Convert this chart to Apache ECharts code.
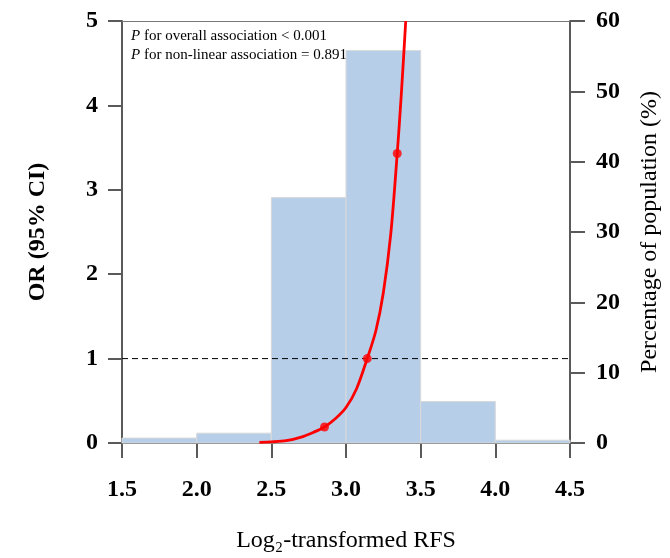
<!DOCTYPE html>
<html>
<head>
<meta charset="utf-8">
<script src="https://cdn.jsdelivr.net/npm/echarts@6/dist/echarts.min.js"></script>
<style>html,body{margin:0;padding:0;background:#fff;overflow:hidden}#c{width:670px;height:558px}</style>
</head>
<body>
<div id="c"></div>
<script>
// Histogram bins (Log2-transformed RFS) and percentage of population
var binStart = [1.5, 2.0, 2.5, 3.0, 3.5, 4.0];
var binEnd   = [2.0, 2.5, 3.0, 3.5, 4.0, 4.5];
var binPct   = [0.7, 1.4, 34.9, 55.8, 5.9, 0.4];

var curveX  = [2.42, 2.50, 2.60, 2.70, 2.78, 2.856, 2.93, 3.00, 3.07, 3.142, 3.20, 3.25, 3.30, 3.343, 3.37, 3.40];
var curveOR = [0.008, 0.013, 0.027, 0.07, 0.125, 0.19, 0.29, 0.42, 0.64, 1.0, 1.33, 1.78, 2.48, 3.43, 4.12, 5.0];

// Highlighted knots
var knotX  = [2.856, 3.142, 3.343];
var knotOR = [0.19, 1.0, 3.43];

var xTicks = ['1.5', '2.0', '2.5', '3.0', '3.5', '4.0', '4.5'];
var refOR = 1;

var FONT = '"Liberation Serif", "Times New Roman", serif';
var AXC = '#5a5a5a';

var chart = echarts.init(document.getElementById('c'), null, {renderer: 'canvas', width: 670, height: 558});

var hist = binStart.map(function (s, i) { return [s, binEnd[i], binPct[i]]; });
var curve = curveX.map(function (x, i) { return [x, curveOR[i]]; });
var knots = knotX.map(function (x, i) { return [x, knotOR[i]]; });

chart.setOption({
  backgroundColor: '#fff',
  animation: false,
  grid: {left: 122, right: 93, top: 21, bottom: 111, containLabel: false},
  graphic: [{
    type: 'text', left: 131, top: 29,
    style: {
      rich: {
        i: {fontFamily: FONT, fontSize: 15, fontStyle: 'italic', fill: '#000', lineHeight: 19},
        n: {fontFamily: FONT, fontSize: 15, fill: '#000', lineHeight: 19}
      },
      text: '{i|P}{n| for overall association < 0.001}\n{i|P}{n| for non-linear association = 0.891}'
    }
  }],
  xAxis: [{
    type: 'value', min: 1.5, max: 4.5, interval: 0.5, position: 'bottom',
    name: 'Log\u2082-transformed RFS', nameLocation: 'middle', nameGap: 86,
    nameTextStyle: {fontFamily: FONT, fontSize: 24, color: '#000'},
    axisLine: {show: true, onZero: false, lineStyle: {color: AXC, width: 2}},
    axisTick: {show: true, length: 15, lineStyle: {color: AXC, width: 2}},
    axisLabel: {margin: 35, fontFamily: FONT, fontSize: 24, fontWeight: 'bold', color: '#000',
      formatter: function (v) { var i = Math.round((v - 1.5) / 0.5); return xTicks[i] !== undefined ? xTicks[i] : ''; }},
    splitLine: {show: false}
  }, {
    type: 'value', min: 1.5, max: 4.5, position: 'top',
    axisLine: {show: true, onZero: false, lineStyle: {color: '#777', width: 1}},
    axisTick: {show: false}, axisLabel: {show: false}, splitLine: {show: false}
  }],
  yAxis: [{
    type: 'value', min: 0, max: 5, interval: 1, position: 'left',
    name: 'OR (95% CI)', nameLocation: 'middle', nameGap: 72,
    nameTextStyle: {fontFamily: FONT, fontSize: 24, fontWeight: 'bold', color: '#000'},
    axisLine: {show: true, onZero: false, lineStyle: {color: AXC, width: 2}},
    axisTick: {show: true, length: 14, lineStyle: {color: AXC, width: 2}},
    axisLabel: {margin: 24, fontFamily: FONT, fontSize: 24, fontWeight: 'bold', color: '#000'},
    splitLine: {show: false}
  }, {
    type: 'value', min: 0, max: 60, interval: 10, position: 'right',
    name: 'Percentage of population (%)', nameLocation: 'middle', nameGap: 68, nameRotate: 90,
    nameTextStyle: {fontFamily: FONT, fontSize: 24, color: '#000'},
    axisLine: {show: true, onZero: false, lineStyle: {color: AXC, width: 2}},
    axisTick: {show: true, length: 15, lineStyle: {color: AXC, width: 2}},
    axisLabel: {margin: 26, fontFamily: FONT, fontSize: 24, fontWeight: 'bold', color: '#000'},
    splitLine: {show: false}
  }],
  series: [{
    type: 'custom', xAxisIndex: 0, yAxisIndex: 1, z: 1,
    data: hist,
    renderItem: function (params, api) {
      var p0 = api.coord([api.value(0), api.value(2)]);
      var p1 = api.coord([api.value(1), 0]);
      return {
        type: 'rect',
        shape: {x: p0[0], y: p0[1], width: p1[0] - p0[0], height: p1[1] - p0[1]},
        style: {fill: '#b7cee9', stroke: '#d9d9d9', lineWidth: 1}
      };
    },
    encode: {x: [0, 1], y: 2}
  }, {
    type: 'line', xAxisIndex: 0, yAxisIndex: 0, z: 3,
    data: [[1.5, refOR], [4.5, refOR]],
    showSymbol: false, silent: true,
    lineStyle: {color: '#000', width: 1, type: [6, 4]}
  }, {
    type: 'line', xAxisIndex: 0, yAxisIndex: 0, z: 4,
    data: curve, smooth: 0.3, showSymbol: false, clip: true,
    lineStyle: {color: '#ff0000', width: 2.8}
  }, {
    type: 'scatter', xAxisIndex: 0, yAxisIndex: 0, z: 5,
    data: knots, symbolSize: 9,
    itemStyle: {color: '#ff0000'}
  }]
});
</script>
</body>
</html>
